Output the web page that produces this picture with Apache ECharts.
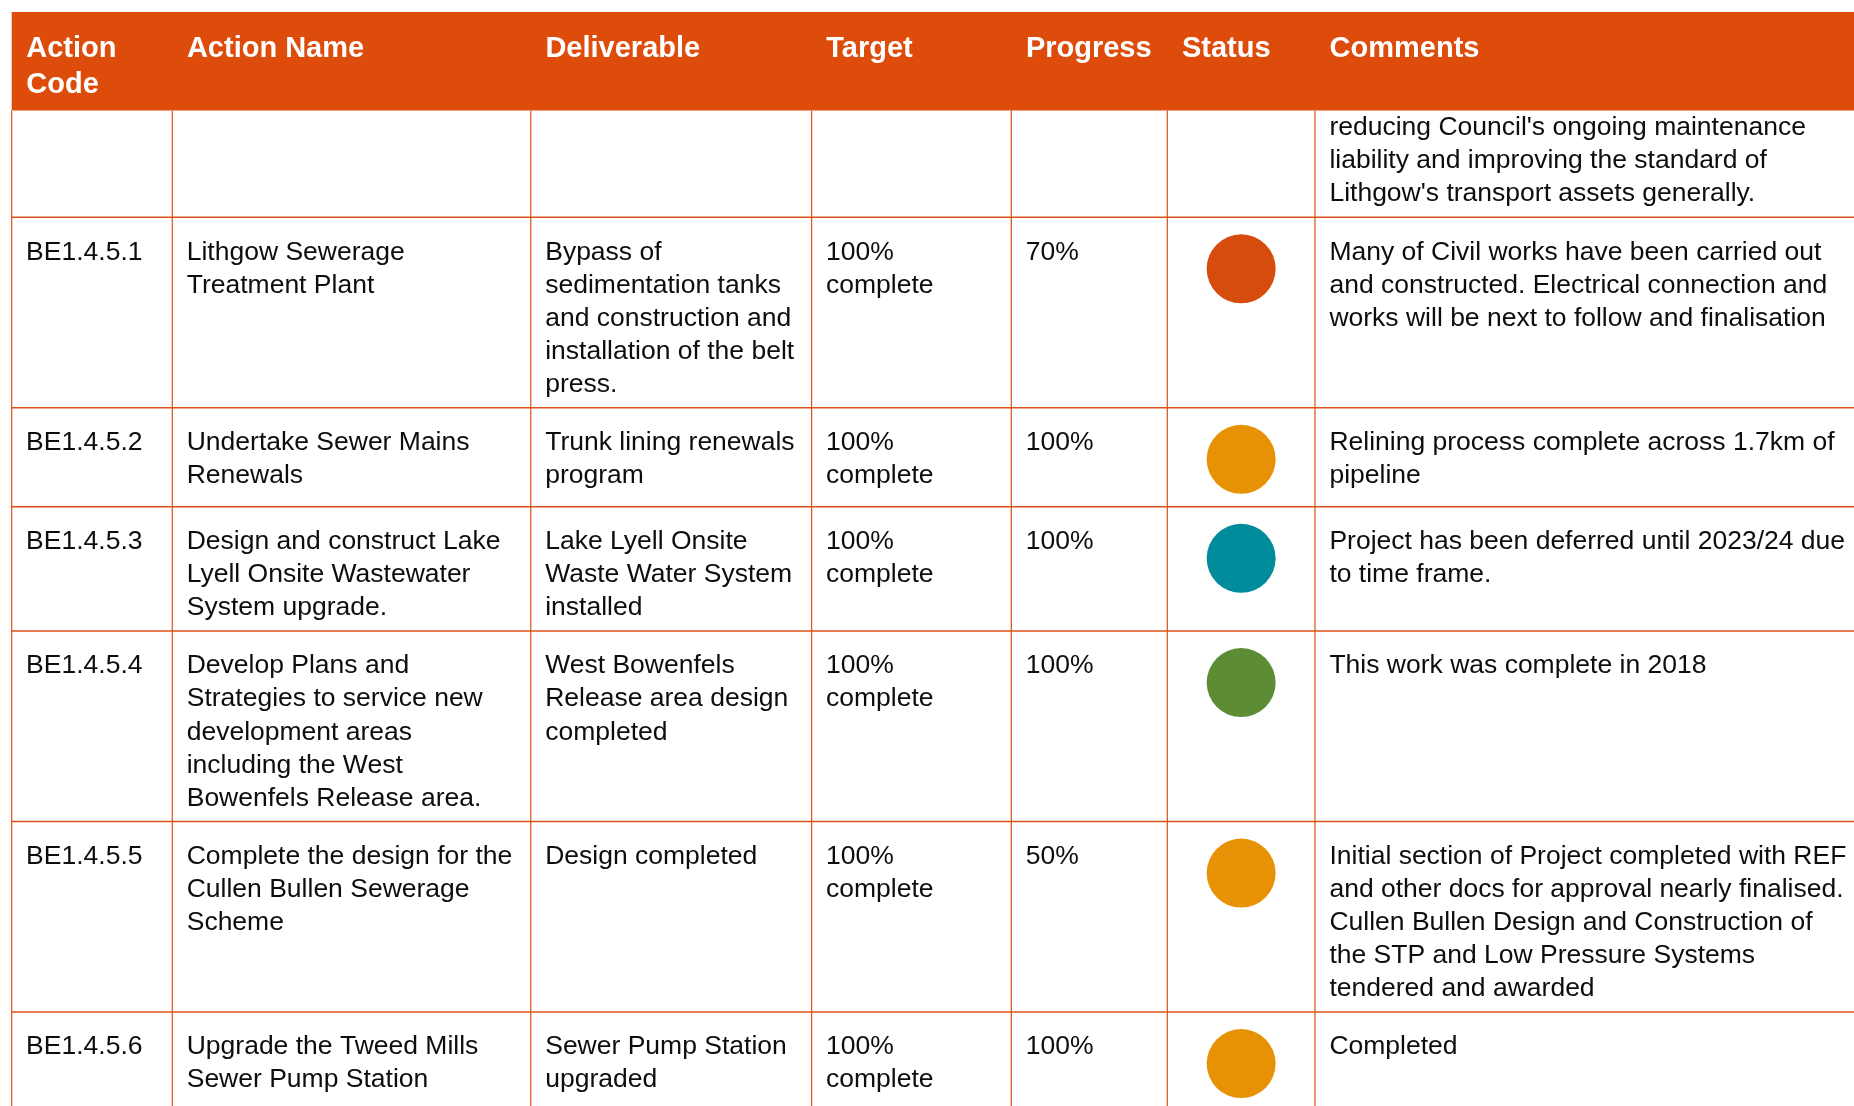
<!DOCTYPE html>
<html>
<head>
<meta charset="utf-8">
<script src="https://cdn.jsdelivr.net/npm/echarts@6/dist/echarts.min.js"></script>
<style>
html,body{margin:0;padding:0;background:#ffffff;}
#chart{width:1854px;height:1106px;}
</style>
</head>
<body>
<div id="chart"></div>
<script>
// ---------------- DATA ----------------
const headerLabels = ['Action\nCode', 'Action Name', 'Deliverable', 'Target', 'Progress', 'Status', 'Comments'];

const actionCodes = ['', 'BE1.4.5.1', 'BE1.4.5.2', 'BE1.4.5.3', 'BE1.4.5.4', 'BE1.4.5.5', 'BE1.4.5.6'];

const actionNames = [
  '',
  'Lithgow Sewerage\nTreatment Plant',
  'Undertake Sewer Mains\nRenewals',
  'Design and construct Lake\nLyell Onsite Wastewater\nSystem upgrade.',
  'Develop Plans and\nStrategies to service new\ndevelopment areas\nincluding the West\nBowenfels Release area.',
  'Complete the design for the\nCullen Bullen Sewerage\nScheme',
  'Upgrade the Tweed Mills\nSewer Pump Station'
];

const deliverables = [
  '',
  'Bypass of\nsedimentation tanks\nand construction and\ninstallation of the belt\npress.',
  'Trunk lining renewals\nprogram',
  'Lake Lyell Onsite\nWaste Water System\ninstalled',
  'West Bowenfels\nRelease area design\ncompleted',
  'Design completed',
  'Sewer Pump Station\nupgraded'
];

const targets = ['', '100%\ncomplete', '100%\ncomplete', '100%\ncomplete', '100%\ncomplete', '100%\ncomplete', '100%\ncomplete'];

const progressValues = ['', '70%', '100%', '100%', '100%', '50%', '100%'];

const statusValues = ['', 'red', 'amber', 'teal', 'green', 'amber', 'amber'];

const comments = [
  "reducing Council's ongoing maintenance\nliability and improving the standard of\nLithgow's transport assets generally.",
  'Many of Civil works have been carried out\nand constructed. Electrical connection and\nworks will be next to follow and finalisation',
  'Relining process complete across 1.7km of\npipeline',
  'Project has been deferred until 2023/24 due\nto time frame.',
  'This work was complete in 2018',
  'Initial section of Project completed with REF\nand other docs for approval nearly finalised.\nCullen Bullen Design and Construction of\nthe STP and Low Pressure Systems\ntendered and awarded',
  'Completed'
];

// ---------------- STYLE / LAYOUT ----------------
const W = 1854, H = 1106;
const STATUS_COLORS = { red: '#D54C0E', amber: '#E69204', teal: '#018C9B', green: '#5E8C35' };
const HEADER_BG = '#DE4C0B';
const LINE_COLOR = '#DC5018';
const TEXT_COLOR = '#0d0d0d';
const FONT_FAMILY = '"Liberation Sans", Arial, Helvetica, sans-serif';
const COL_EDGES = [11.7, 172.3, 530.8, 811.6, 1011.3, 1167.3, 1315, 1880];
const HEADER_TOP = 12, HEADER_BOTTOM = 110.5;
const HEADER_FS = 29, HEADER_LH = 36, HEADER_TEXT_TOP = 30.5, HEADER_PADX = 14.6;
const BODY_FS = 26.5, LH = 33.1, PADX = 14.4, TEXT_DY = 2.4;
const TOP_PAD = 16, BOTTOM_PAD = 9, CONT_TOP_PAD = -1.5, MIN_STATUS_H = 99;
const CIRCLE_DY = 51.5, CIRCLE_R = 34.5;

const textColumns = [actionCodes, actionNames, deliverables, targets, progressValues, null, comments];

// row layout derived from the content (line counts)
const rowLayout = [];
(function () {
  let y = HEADER_BOTTOM;
  for (let i = 0; i < actionCodes.length; i++) {
    const cont = i === 0 && !actionCodes[i];
    let n = 0;
    textColumns.forEach(a => { if (a && a[i]) n = Math.max(n, a[i].split('\n').length); });
    const top = cont ? CONT_TOP_PAD : TOP_PAD;
    let h = top + n * LH + BOTTOM_PAD;
    if (statusValues[i]) h = Math.max(h, MIN_STATUS_H);
    rowLayout.push({ top: y, h: h, pad: top });
    y += h;
  }
})();

const chart = echarts.init(document.getElementById('chart'), null, { renderer: 'canvas', width: W, height: H });

function lineEl(api, x1, y1, x2, y2, lw) {
  const a = api.coord([x1, y1]), b = api.coord([x2, y2]);
  return { type: 'line', silent: true, shape: { x1: a[0], y1: a[1], x2: b[0], y2: b[1] }, style: { stroke: LINE_COLOR, lineWidth: lw } };
}

function renderHeader(params, api) {
  const tl = api.coord([COL_EDGES[0], HEADER_TOP]);
  const br = api.coord([COL_EDGES[COL_EDGES.length - 1], HEADER_BOTTOM]);
  const children = [{ type: 'rect', silent: true, shape: { x: tl[0], y: tl[1], width: br[0] - tl[0], height: br[1] - tl[1] }, style: { fill: HEADER_BG } }];
  headerLabels.forEach((lab, c) => {
    const p = api.coord([COL_EDGES[c] + HEADER_PADX, HEADER_TEXT_TOP]);
    children.push({
      type: 'text', silent: true, x: p[0], y: p[1],
      style: { text: lab, fill: '#ffffff', fontSize: HEADER_FS, fontWeight: 'bold', fontFamily: FONT_FAMILY, lineHeight: HEADER_LH, align: 'left', verticalAlign: 'top' }
    });
  });
  return { type: 'group', children: children };
}

function renderRow(params, api) {
  const i = api.value(0);
  const r = rowLayout[i];
  const children = [];
  if (i > 0) children.push(lineEl(api, COL_EDGES[0], r.top, COL_EDGES[COL_EDGES.length - 1], r.top, 1.5));
  for (let c = 0; c < COL_EDGES.length - 1; c++) {
    children.push(lineEl(api, COL_EDGES[c], r.top, COL_EDGES[c], r.top + r.h, 1.2));
  }
  textColumns.forEach((arr, c) => {
    if (!arr || !arr[i]) return;
    const p = api.coord([COL_EDGES[c] + PADX, r.top + r.pad + TEXT_DY]);
    children.push({
      type: 'text', silent: true, x: p[0], y: p[1],
      style: { text: arr[i], fill: TEXT_COLOR, fontSize: BODY_FS, fontFamily: FONT_FAMILY, lineHeight: LH, align: 'left', verticalAlign: 'top' }
    });
  });
  if (statusValues[i]) {
    const cx = (COL_EDGES[5] + COL_EDGES[6]) / 2;
    const p = api.coord([cx, r.top + CIRCLE_DY]);
    const rad = api.size([CIRCLE_R, 0])[0];
    children.push({ type: 'circle', silent: true, shape: { cx: p[0], cy: p[1], r: rad }, style: { fill: STATUS_COLORS[statusValues[i]] } });
  }
  return { type: 'group', children: children };
}

chart.setOption({
  animation: false,
  backgroundColor: '#ffffff',
  grid: { left: 0, right: 0, top: 0, bottom: 0, containLabel: false },
  xAxis: { type: 'value', min: 0, max: W, show: false },
  yAxis: { type: 'value', min: 0, max: H, inverse: true, show: false },
  tooltip: { show: false },
  series: [
    {
      type: 'custom', name: 'rows', clip: false,
      data: actionCodes.map((_, i) => [i, i]),
      encode: { x: 0, y: 1 },
      renderItem: renderRow
    },
    {
      type: 'custom', name: 'header', clip: false, z: 3,
      data: [[0, 0]],
      encode: { x: 0, y: 1 },
      renderItem: renderHeader
    }
  ]
});
</script>
</body>
</html>
